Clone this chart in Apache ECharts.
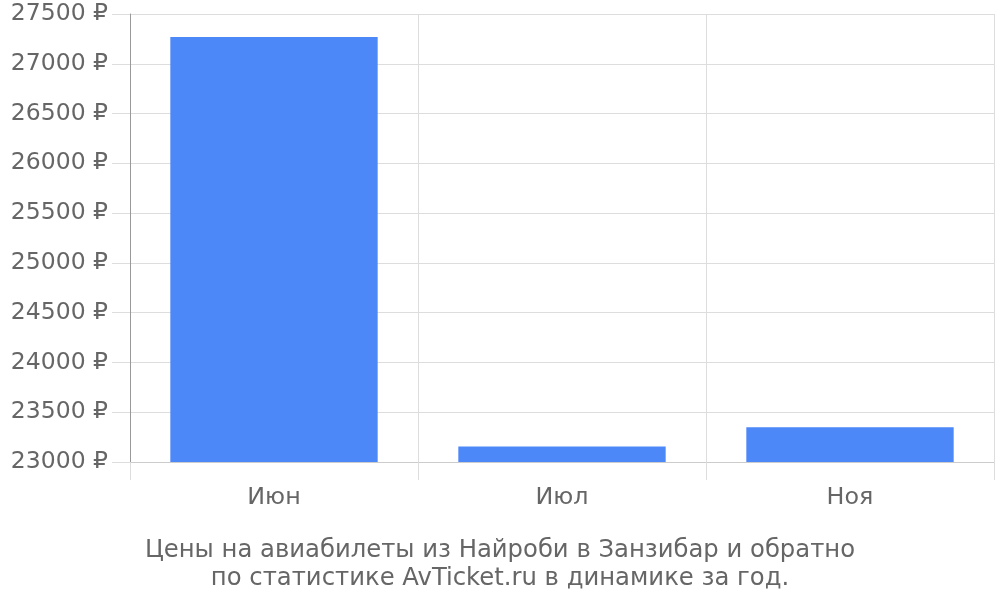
<!DOCTYPE html>
<html><head><meta charset="utf-8">
<script src="https://cdn.jsdelivr.net/npm/echarts@6/dist/echarts.min.js"></script>
<style>html,body{margin:0;padding:0;background:#fff}#c{width:1000px;height:600px}</style>
</head><body><div id="c"></div>
<script>
const categories = ["Июн", "Июл", "Ноя"];
const prices = [27270, 23155, 23350];
const yMin = 23000, yMax = 27500, yStep = 500;
const titleLines = ["Цены на авиабилеты из Найроби в Занзибар и обратно", "по статистике AvTicket.ru в динамике за год."];

const chart = echarts.init(document.getElementById('c'));
const font = 'DejaVu Sans';
chart.setOption({
  animation: false,
  textStyle: { fontFamily: font },
  title: {
    text: titleLines.join('\n'), left: 'center', top: 532,
    textStyle: { fontFamily: font, fontSize: 24.3, fontWeight: 'normal', color: '#666', lineHeight: 28 }
  },
  grid: { left: 130, right: 6, top: 14, bottom: 138 },
  xAxis: {
    type: 'category', data: categories,
    axisLine: { lineStyle: { color: '#ccc', width: 1 } },
    axisTick: { show: true, length: 18, lineStyle: { color: '#ddd' } },
    splitLine: { show: true, lineStyle: { color: '#ddd' } },
    axisLabel: { fontFamily: font, fontSize: 23.8, color: '#666', margin: 24 }
  },
  yAxis: {
    type: 'value', min: yMin, max: yMax, interval: yStep,
    axisLine: { show: true, lineStyle: { color: '#999' } },
    axisTick: { show: true, length: 18, lineStyle: { color: '#ddd' } },
    splitLine: { show: true, lineStyle: { color: '#ddd' } },
    axisLabel: { fontFamily: font, fontSize: 23.5, color: '#666', margin: 22, padding: [4, 0, 0, 0], formatter: v => v + ' ₽' }
  },
  series: [{
    type: 'bar', data: prices, barWidth: '72%',
    itemStyle: { color: '#4d88f9' }
  }]
});
</script></body></html>
